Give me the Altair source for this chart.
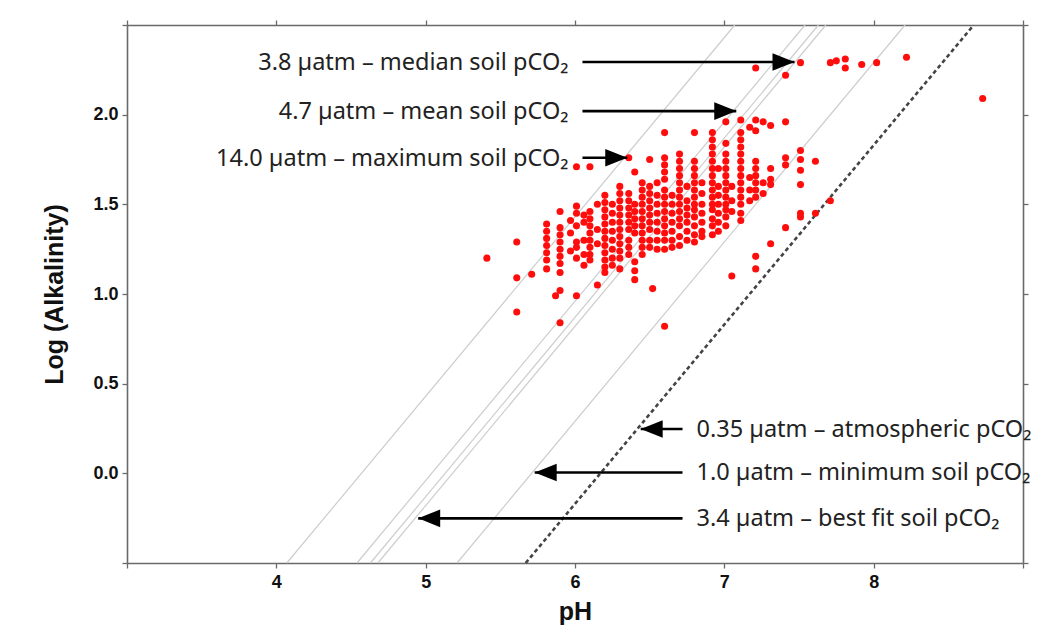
import altair as alt
import pandas as pd

# ---- scatter samples (pH, log alkalinity), grouped by pH column ----
col_ph = [5.41, 5.61, 5.71, 5.81, 5.87, 5.90, 5.97, 6.01, 6.06, 6.10, 6.15, 6.20, 6.25,
          6.30, 6.36, 6.40, 6.45, 6.50, 6.52, 6.55, 6.60, 6.65, 6.70, 6.75, 6.80, 6.85,
          6.92, 6.96, 7.01, 7.05, 7.11, 7.17, 7.21, 7.26, 7.31, 7.41, 7.51, 7.61, 7.71,
          7.75, 7.81, 7.92, 8.02, 8.22, 8.73]
col_alk = [
    [1.20],
    [1.29, 1.09, 0.90],
    [1.11],
    [1.39, 1.35, 1.31, 1.27, 1.23, 1.19, 1.14],
    [0.99],
    [1.46, 1.37, 1.33, 1.29, 1.25, 1.21, 1.17, 1.12, 1.02, 0.84],
    [1.41, 1.34, 1.24],
    [1.71, 1.49, 1.45, 1.38, 1.29, 1.26, 1.20, 0.99],
    [1.44, 1.40, 1.30, 1.22, 1.16],
    [1.71, 1.46, 1.42, 1.38, 1.34, 1.30, 1.26, 1.22, 1.19],
    [1.50, 1.36, 1.28, 1.05],
    [1.55, 1.51, 1.47, 1.43, 1.39, 1.35, 1.31, 1.27, 1.23, 1.19, 1.15, 1.12],
    [1.50, 1.45, 1.40, 1.35, 1.30, 1.25, 1.20, 1.16],
    [1.60, 1.56, 1.52, 1.48, 1.44, 1.40, 1.36, 1.32, 1.28, 1.24, 1.20, 1.14],
    [1.76, 1.56, 1.52, 1.48, 1.44, 1.40, 1.36, 1.30, 1.26, 1.22],
    [1.68, 1.50, 1.46, 1.42, 1.38, 1.34, 1.18, 1.13, 1.08],
    [1.62, 1.58, 1.54, 1.50, 1.46, 1.42, 1.38, 1.34, 1.30, 1.26, 1.22],
    [1.75, 1.60, 1.56, 1.52, 1.48, 1.44, 1.40, 1.36, 1.30, 1.26],
    [1.03],
    [1.62, 1.55, 1.50, 1.45, 1.40, 1.35, 1.30, 1.25],
    [1.90, 1.76, 1.72, 1.68, 1.64, 1.58, 1.54, 1.50, 1.46, 1.42, 1.38, 1.34, 1.30, 1.25, 0.82],
    [1.55, 1.50, 1.45, 1.40, 1.35, 1.30, 1.26],
    [1.78, 1.74, 1.70, 1.66, 1.62, 1.58, 1.54, 1.50, 1.46, 1.42, 1.38, 1.32, 1.27],
    [1.60, 1.52, 1.48, 1.44, 1.40, 1.35, 1.30],
    [1.90, 1.74, 1.70, 1.66, 1.62, 1.58, 1.54, 1.50, 1.47, 1.43, 1.38, 1.33, 1.29],
    [1.62, 1.56, 1.50, 1.45, 1.40, 1.35, 1.32],
    [1.90, 1.86, 1.82, 1.78, 1.74, 1.70, 1.66, 1.62, 1.58, 1.54, 1.50, 1.47, 1.42, 1.38, 1.33],
    [1.70, 1.60, 1.55, 1.50, 1.45, 1.40, 1.35],
    [1.96, 1.84, 1.78, 1.74, 1.70, 1.66, 1.62, 1.58, 1.54, 1.50, 1.47, 1.43, 1.38],
    [1.60, 1.52, 1.46, 1.10],
    [1.97, 1.90, 1.86, 1.82, 1.78, 1.74, 1.70, 1.66, 1.62, 1.58, 1.54, 1.50, 1.45, 1.41],
    [1.93, 1.65, 1.58, 1.52],
    [2.26, 1.97, 1.91, 1.74, 1.70, 1.66, 1.62, 1.58, 1.54, 1.21, 1.14],
    [1.96, 1.62, 1.56],
    [1.94, 1.70, 1.64, 1.61, 1.28],
    [2.22, 1.96, 1.76, 1.72, 1.37],
    [2.29, 1.80, 1.75, 1.69, 1.61, 1.45, 1.43],
    [1.74, 1.45],
    [2.29, 1.52],
    [2.30],
    [2.31, 2.26],
    [2.28],
    [2.29],
    [2.32],
    [2.09],
]

# ---- equilibrium pCO2 lines (pH where each line meets the bottom / top of the frame) ----
line_pco2 = ["0.35", "1.0", "3.4", "3.8", "4.7", "14.0"]
line_ph_bottom = [5.67, 5.21, 4.68, 4.63, 4.54, 4.07]
line_ph_top = [8.67, 8.21, 7.68, 7.63, 7.54, 7.07]
line_alk_bottom = -0.5
line_alk_top = 2.5

# ---- annotations ----
label_text = [
    "3.8 µatm – median soil pCO₂",
    "4.7 µatm – mean soil pCO₂",
    "14.0 µatm – maximum soil pCO₂",
    "0.35 µatm – atmospheric pCO₂",
    "1.0 µatm – minimum soil pCO₂",
    "3.4 µatm – best fit soil pCO₂",
]
arrow_alk = [2.294, 2.02, 1.76, 0.247, 0.005, -0.251]
arrow_tail = [6.05, 6.05, 6.05, 6.72, 6.72, 6.72]
arrow_tip = [7.47, 7.08, 6.35, 6.44, 5.73, 4.95]
arrow_side = ["right", "right", "right", "left", "left", "left"]

x_ticks = [3, 4, 5, 6, 7, 8, 9]
y_ticks = [-0.5, 0.0, 0.5, 1.0, 1.5, 2.0, 2.5]

# ---- tables ----
pts = pd.DataFrame(
    [(p, a) for p, col in zip(col_ph, col_alk) for a in col], columns=["ph", "alk"]
)
lines = pd.DataFrame(
    [(c, b, line_alk_bottom) for c, b in zip(line_pco2, line_ph_bottom)]
    + [(c, t, line_alk_top) for c, t in zip(line_pco2, line_ph_top)],
    columns=["pco2", "ph", "alk"],
)
ann = pd.DataFrame(
    {"text": label_text, "alk": arrow_alk, "tail": arrow_tail, "tip": arrow_tip, "side": arrow_side}
)

xs = alt.Scale(domain=[3, 9], nice=False, zero=False)
ys = alt.Scale(domain=[-0.5, 2.5], nice=False, zero=False)

axis_common = dict(
    domainColor="#6a6a6a", domainWidth=1.6, tickColor="#6a6a6a", tickWidth=1.3, tickSize=5,
    labelFont="Liberation Sans", labelFontWeight="bold", labelFontSize=18, labelColor="#111111",
    titleFont="Liberation Sans", titleFontWeight="bold", titleFontSize=25, titleColor="#111",
    grid=False,
)

x_bottom = alt.X("ph:Q", scale=xs, axis=alt.Axis(
    title="pH", values=x_ticks, format="d", labelPadding=5, titlePadding=8,
    labelExpr="datum.value == 3 || datum.value == 9 ? '' : datum.label", **axis_common))
y_left = alt.Y("alk:Q", scale=ys, axis=alt.Axis(
    title="Log (Alkalinity)", values=y_ticks, format=".1f", labelPadding=4, titlePadding=25,
    labelExpr="datum.value == -0.5 || datum.value == 2.5 ? '' : datum.label", **axis_common))
x_top = alt.X("ph:Q", scale=xs, axis=alt.Axis(
    orient="top", title=None, values=x_ticks, labels=False, **axis_common))
y_right = alt.Y("alk:Q", scale=ys, axis=alt.Axis(
    orient="right", title=None, values=y_ticks, labels=False, **axis_common))


def xq(field):
    return alt.X(f"{field}:Q", scale=xs, axis=None)


def yq(field):
    return alt.Y(f"{field}:Q", scale=ys, axis=None)


gray_lines = alt.Chart(lines).transform_filter("datum.pco2 != '0.35'").mark_line(
    color="#cdcdcd", strokeWidth=1.2
).encode(x=x_bottom, y=y_left, detail="pco2:N")

dashed = alt.Chart(lines).transform_filter("datum.pco2 == '0.35'").mark_line(
    color="#444444", strokeWidth=2.6, strokeDash=[4, 3]
).encode(x=x_top, y=y_right, detail="pco2:N")

points = alt.Chart(pts).mark_circle(color="#ff0d0d", size=50, opacity=1).encode(
    x=xq("ph"), y=yq("alk")
)

shafts = alt.Chart(ann).mark_rule(color="black", strokeWidth=2.6).encode(
    x=xq("tail"), x2="tip:Q", y=yq("alk")
)

head_r = alt.Chart(ann).transform_filter("datum.side == 'right'").mark_point(
    shape="M0,0 L-1,-0.4 L-1,0.4 Z", size=1936, filled=True, color="black", opacity=1
).encode(x=xq("tip"), y=yq("alk"))

head_l = alt.Chart(ann).transform_filter("datum.side == 'left'").mark_point(
    shape="M0,0 L1,-0.4 L1,0.4 Z", size=1936, filled=True, color="black", opacity=1
).encode(x=xq("tip"), y=yq("alk"))

txt_r = alt.Chart(ann).transform_filter("datum.side == 'right'").mark_text(
    align="right", baseline="middle", dx=-14, dy=1, fontSize=23.5,
    font="Noto Sans", color="#222222"
).encode(x=xq("tail"), y=yq("alk"), text="text:N")

txt_l = alt.Chart(ann).transform_filter("datum.side == 'left'").mark_text(
    align="left", baseline="middle", dx=14, dy=1, fontSize=23.5,
    font="Noto Sans", color="#222222"
).encode(x=xq("tail"), y=yq("alk"), text="text:N")

chart = alt.layer(
    gray_lines, dashed, points, shafts, head_r, head_l, txt_r, txt_l
).resolve_axis(x="independent", y="independent").properties(
    width=896, height=538,
    padding={"left": 119, "top": 17, "right": 18, "bottom": 66},
    autosize=alt.AutoSizeParams(type="none"),
).configure_view(strokeWidth=0)

chart.save("out.html", embed_options={"renderer": "svg", "actions": False})
